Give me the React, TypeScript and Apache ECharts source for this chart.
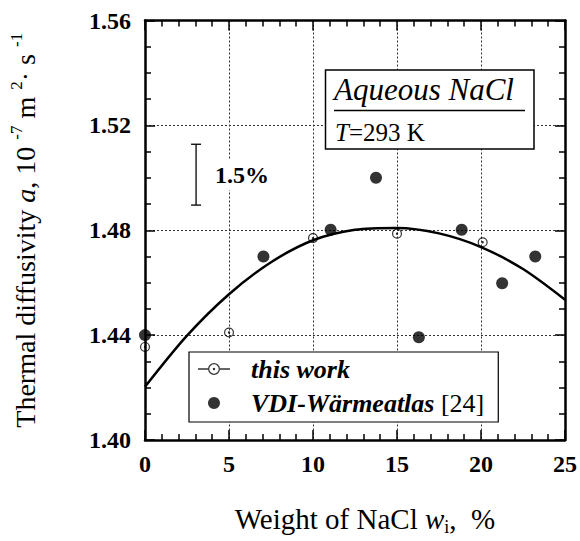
import React, { useEffect, useRef } from "react";
import * as echarts from "echarts";

const FONT = "Liberation Serif";

// x axis (weight %) and y axis (thermal diffusivity) ranges
const xRange = [0, 25];
const xStep = 5;
const yRange = [1.4, 1.56];
const yStep = 0.04;

// this work (open circles)
const thisWorkX = [0, 5, 10, 15, 20.1];
const thisWorkY = [1.4355, 1.441, 1.477, 1.4787, 1.4754];

// VDI-Wärmeatlas [24] (filled circles)
const vdiX = [0, 7.05, 11.05, 13.75, 16.3, 18.85, 21.26, 23.23];
const vdiY = [1.44, 1.47, 1.4802, 1.5, 1.4392, 1.4802, 1.4598, 1.47];

// fitted curve
const fitX = [0, 2.5, 5, 7.5, 10, 12.5, 15, 17.5, 20, 22.5, 25];
const fitY = [1.4203, 1.4398, 1.4556, 1.4678, 1.4762, 1.4802, 1.4809, 1.4788, 1.4736, 1.4652, 1.4535];

// 1.5 % scale bar: [x, low, high]
const scaleBar = [3.04, 1.4896, 1.5128];

const seriesNames = ["this work", "VDI-Wärmeatlas [24]"];
const boxTitle = "Aqueous NaCl";
const boxTemp = "{i|T}=293 K";
const scaleLabel = "1.5%";

const RING_SYMBOL =
  "path://M10,5A5,5,0,1,0,0,5A5,5,0,1,0,10,5ZM8.8,5A3.8,3.8,0,1,1,1.2,5A3.8,3.8,0,1,1,8.8,5ZM6.2,5A1.2,1.2,0,1,0,3.8,5A1.2,1.2,0,1,0,6.2,5Z";
const RING_LEGEND =
  "path://M0,5.3L10,5.3L10,6.7L0,6.7ZM22,5.3L32,5.3L32,6.7L22,6.7ZM22,6A6,6,0,1,0,10,6A6,6,0,1,0,22,6ZM20.7,6A4.7,4.7,0,1,1,11.3,6A4.7,4.7,0,1,1,20.7,6ZM17.2,6A1.2,1.2,0,1,0,14.8,6A1.2,1.2,0,1,0,17.2,6Z";

export default function App() {
  const ref = useRef<HTMLDivElement>(null);

  useEffect(() => {
    if (!ref.current) return;
    const chart = echarts.init(ref.current, undefined, { renderer: "svg" });

    const axisLine = { show: true, onZero: false, lineStyle: { color: "#000", width: 2.5 } };
    const labelFont = { fontFamily: FONT, fontSize: 24, fontWeight: "bold", color: "#000" };

    const baseX = {
      type: "value",
      min: xRange[0],
      max: xRange[1],
      interval: xStep,
      axisLine,
      axisTick: { show: true, inside: true, length: 10, lineStyle: { color: "#000", width: 1.5 } },
      minorTick: { show: true, splitNumber: 5, length: 6, lineStyle: { color: "#000", width: 1.5 } },
    };
    const baseY = {
      type: "value",
      min: yRange[0],
      max: yRange[1],
      interval: yStep,
      axisLine,
      axisTick: { show: true, inside: true, length: 10, lineStyle: { color: "#000", width: 1.5 } },
      minorTick: { show: true, splitNumber: 4, length: 6, lineStyle: { color: "#000", width: 1.5 } },
    };
    const gridLine = { show: true, lineStyle: { color: "#333", width: 1, type: [2, 2] } };

    chart.setOption({
      animation: false,
      backgroundColor: "#fff",
      textStyle: { fontFamily: FONT },
      grid: { left: 142.7, right: 13.5, top: 20.5, bottom: 100 },
      xAxis: [
        {
          ...baseX,
          position: "bottom",
          axisLabel: { ...labelFont, margin: 12 },
          splitLine: gridLine,
          name: "{n|Weight of NaCl }{w|w}{s|i}{n|,  %}",
          nameLocation: "middle",
          nameGap: 62,
          nameTextStyle: {
            padding: [0, 0, 0, 20],
            rich: {
              n: { fontFamily: FONT, fontSize: 29, lineHeight: 34, color: "#000" },
              w: { fontFamily: FONT, fontSize: 29, lineHeight: 34, fontStyle: "italic", color: "#000" },
              s: { fontFamily: FONT, fontSize: 18, lineHeight: 18, verticalAlign: "bottom", color: "#000" },
            },
          },
        },
        { ...baseX, position: "top", axisLabel: { show: false }, splitLine: { show: false } },
      ],
      yAxis: [
        {
          ...baseY,
          position: "left",
          axisLabel: { ...labelFont, margin: 14, formatter: (v: number) => v.toFixed(2) },
          splitLine: gridLine,
          name: "{n|Thermal diffusivity }{i|a}{n|, 10 }{p|-7}{n| m }{p|2}{n|· s }{p|-1}",
          nameLocation: "middle",
          nameRotate: 90,
          nameGap: 103,
          nameTextStyle: {
            rich: {
              n: { fontFamily: FONT, fontSize: 28, lineHeight: 34, color: "#000" },
              i: { fontFamily: FONT, fontSize: 28, lineHeight: 34, fontStyle: "italic", color: "#000" },
              p: { fontFamily: FONT, fontSize: 17, lineHeight: 17, verticalAlign: "top", color: "#000" },
            },
          },
        },
        { ...baseY, position: "right", axisLabel: { show: false }, splitLine: { show: false } },
      ],
      legend: {
        orient: "vertical",
        left: 189,
        top: 352,
        padding: [4, 14, 6, 9],
        itemGap: 8,
        itemWidth: 32,
        itemHeight: 12,
        backgroundColor: "#fff",
        borderColor: "#000",
        borderWidth: 1.2,
        selectedMode: false,
        data: [
          { name: seriesNames[0], icon: RING_LEGEND },
          { name: seriesNames[1], icon: "circle" },
        ],
        formatter: (name: string) =>
          name === seriesNames[1] ? "{a|VDI-Wärmeatlas} {b|[24]}" : "{a|" + name + "}",
        textStyle: {
          fontFamily: FONT,
          fontSize: 26,
          fontStyle: "italic",
          fontWeight: "bold",
          color: "#000",
          padding: [0, 0, 0, 16],
          rich: {
            a: { fontFamily: FONT, fontSize: 26, fontStyle: "italic", fontWeight: "bold", lineHeight: 30, color: "#000" },
            b: { fontFamily: FONT, fontSize: 26, fontStyle: "normal", fontWeight: "normal", lineHeight: 30, color: "#000" },
          },
        },
      },
      series: [
        {
          name: "fit",
          type: "line",
          data: fitX.map((x, i) => [x, fitY[i]]),
          smooth: 0.3,
          symbol: "none",
          lineStyle: { color: "#000", width: 2.5 },
          z: 3,
        },
        {
          name: seriesNames[0],
          type: "scatter",
          data: thisWorkX.map((x, i) => [x, thisWorkY[i]]),
          symbol: RING_SYMBOL,
          symbolSize: 10,
          itemStyle: { color: "#000" },
          z: 4,
        },
        {
          name: seriesNames[1],
          type: "scatter",
          data: vdiX.map((x, i) => [x, vdiY[i]]),
          symbol: "circle",
          symbolSize: 12,
          itemStyle: { color: "#000" },
          z: 4,
        },
        {
          name: "scale",
          type: "custom",
          data: [scaleBar],
          encode: { x: 0, y: [1, 2] },
          renderItem: (_p: any, api: any) => {
            const lo = api.coord([api.value(0), api.value(1)]);
            const hi = api.coord([api.value(0), api.value(2)]);
            const st = { stroke: "#000", lineWidth: 1.3 };
            return {
              type: "group",
              children: [
                { type: "line", shape: { x1: lo[0], y1: lo[1], x2: hi[0], y2: hi[1] }, style: st },
                { type: "line", shape: { x1: lo[0] - 5, y1: lo[1], x2: lo[0] + 5, y2: lo[1] }, style: st },
                { type: "line", shape: { x1: hi[0] - 5, y1: hi[1], x2: hi[0] + 5, y2: hi[1] }, style: st },
              ],
            };
          },
          z: 3,
        },
      ],
      graphic: [
        {
          type: "rect",
          shape: { x: 325.5, y: 70, width: 208.5, height: 79 },
          style: { fill: "#fff", stroke: "#000", lineWidth: 1.5 },
          z: 100,
        },
        {
          type: "text",
          x: 334,
          y: 89,
          style: {
            text: boxTitle,
            fontFamily: FONT,
            fontSize: 31,
            fontStyle: "italic",
            fill: "#000",
            align: "left",
            verticalAlign: "middle",
          },
          z: 101,
        },
        {
          type: "line",
          shape: { x1: 334, y1: 110.5, x2: 525, y2: 110.5 },
          style: { stroke: "#000", lineWidth: 1.3 },
          z: 101,
        },
        {
          type: "text",
          x: 335,
          y: 132,
          style: {
            text: boxTemp,
            fontFamily: FONT,
            fontSize: 25,
            fill: "#000",
            align: "left",
            verticalAlign: "middle",
            rich: { i: { fontFamily: FONT, fontSize: 25, fontStyle: "italic", fill: "#000" } },
          },
          z: 101,
        },
        {
          type: "text",
          x: 213,
          y: 175,
          style: {
            text: scaleLabel,
            fontFamily: FONT,
            fontSize: 24,
            fontWeight: "bold",
            fill: "#000",
            align: "left",
            verticalAlign: "middle",
            backgroundColor: "#fff",
            padding: [3, 2],
          },
          z: 100,
        },
      ],
    });

    return () => chart.dispose();
  }, []);

  return <div ref={ref} style={{ position: "fixed", left: 0, top: 0, width: 580, height: 541 }} />;
}
